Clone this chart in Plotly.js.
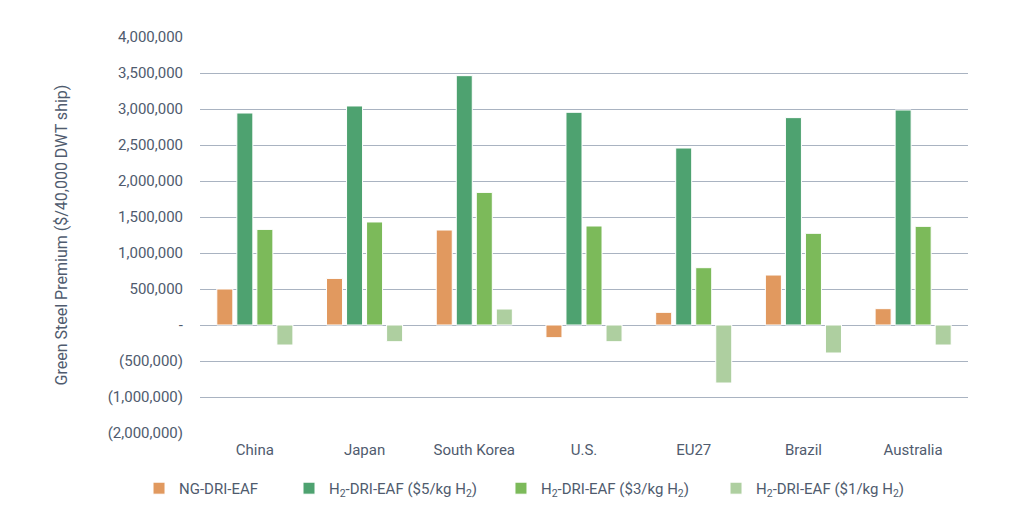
<!DOCTYPE html>
<html>
<head>
<meta charset="utf-8">
<script src="https://cdn.plot.ly/plotly-3.0.1.min.js"></script>
<style>
  html, body { margin: 0; padding: 0; background: #ffffff; }
  #plotDiv { width: 1024px; height: 521px; }
</style>
</head>
<body>
<div id="plotDiv"></div>
<script>
'use strict';

// countries on the x axis
const regions = ['China', 'Japan', 'South Korea', 'U.S.', 'EU27', 'Brazil', 'Australia'];

// green steel premium, $ per 40,000 DWT ship
const ngDriEaf = [500000, 647000, 1319000, -176000, 176000, 694000, 227000];
const h2Price5 = [2944000, 3042000, 3463000, 2954000, 2458000, 2880000, 2986000];
const h2Price3 = [1328000, 1431000, 1842000, 1375000, 796000, 1273000, 1370000];
const h2Price1 = [-278000, -232000, 222000, -232000, -806000, -389000, -278000];

// y tick labels as printed on the chart
const yTickVals = [4000000, 3500000, 3000000, 2500000, 2000000, 1500000, 1000000, 500000, 0, -500000, -1000000, -1500000];
const yTickText = ['4,000,000', '3,500,000', '3,000,000', '2,500,000', '2,000,000', '1,500,000', '1,000,000', '500,000', '-', '(500,000)', '(1,000,000)', '(2,000,000)'];

const textColor = '#4f5b6e';
const gridColor = '#a9b3c1';

function barTrace(name, values, color, legendId){
    return {
        type: 'bar',
        name: name,
        x: regions,
        y: values,
        legend: legendId,
        marker: {color: color, line: {color: '#ffffff', width: 1}},
        hoverinfo: 'x+y+name'
    };
}

// one legend per series so the entries sit where the original has them
function legendAt(xpos){
    return {
        orientation: 'h',
        x: xpos,
        xanchor: 'left',
        y: -0.14,
        yanchor: 'middle',
        bgcolor: 'rgba(0,0,0,0)',
        font: {size: 15, color: textColor}
    };
}

var data = [
    barTrace('NG-DRI-EAF', ngDriEaf, '#e1995f', 'legend'),
    barTrace('H<sub>2</sub>-DRI-EAF ($5/kg H<sub>2</sub>)', h2Price5, '#4ea270', 'legend2'),
    barTrace('H<sub>2</sub>-DRI-EAF ($3/kg H<sub>2</sub>)', h2Price3, '#7cba5a', 'legend3'),
    barTrace('H<sub>2</sub>-DRI-EAF ($1/kg H<sub>2</sub>)', h2Price1, '#aecfa0', 'legend4')
];

var layout = {
    width: 1024,
    height: 521,
    paper_bgcolor: '#ffffff',
    plot_bgcolor: '#ffffff',
    font: {family: 'Roboto, "Open Sans", sans-serif', size: 15, color: textColor},
    margin: {l: 200, r: 56, t: 37, b: 88, pad: 0},
    barmode: 'group',
    bargap: 0.27,
    bargroupgap: 0.2,
    showlegend: true,
    legend: legendAt(-0.0794),
    legend2: legendAt(0.1159),
    legend3: legendAt(0.3919),
    legend4: legendAt(0.6719),
    xaxis: {
        type: 'category',
        showgrid: false,
        showline: false,
        zeroline: false,
        ticks: '',
        ticklabelstandoff: 6,
        tickfont: {size: 15, color: textColor}
    },
    yaxis: {
        range: [-1500000, 4000000],
        tickmode: 'array',
        tickvals: yTickVals,
        ticktext: yTickText,
        showgrid: true,
        gridcolor: gridColor,
        gridwidth: 1,
        zeroline: true,
        zerolinecolor: gridColor,
        zerolinewidth: 1,
        showline: false,
        ticks: '',
        ticklabelstandoff: 16,
        tickfont: {size: 15, color: textColor},
        title: {
            text: 'Green Steel Premium ($/40,000 DWT ship)',
            font: {size: 16, color: textColor},
            standoff: 36
        }
    }
};

Plotly.newPlot('plotDiv', data, layout, {displayModeBar: false, staticPlot: true});
</script>
</body>
</html>
